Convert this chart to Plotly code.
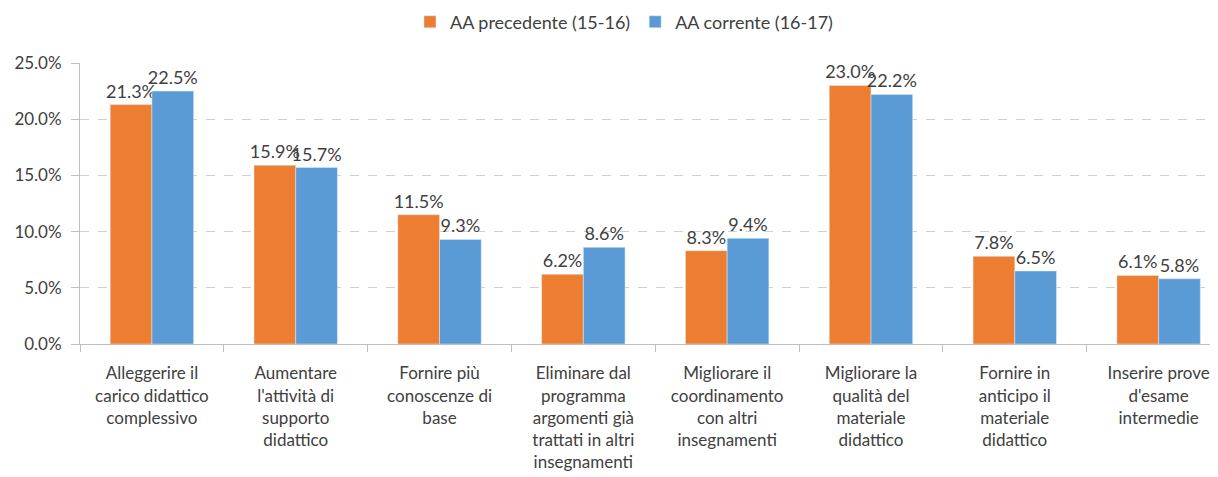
import plotly.graph_objects as go

categories = [
    "Alleggerire il<br>carico didattico<br>complessivo",
    "Aumentare<br>l'attività di<br>supporto<br>didattico",
    "Fornire più<br>conoscenze di<br>base",
    "Eliminare dal<br>programma<br>argomenti già<br>trattati in altri<br>insegnamenti",
    "Migliorare il<br>coordinamento<br>con altri<br>insegnamenti",
    "Migliorare la<br>qualità del<br>materiale<br>didattico",
    "Fornire in<br>anticipo il<br>materiale<br>didattico",
    "Inserire prove<br>d'esame<br>intermedie",
]
prev_name = "AA precedente (15-16)"
curr_name = "AA corrente (16-17)"
prev_values = [0.213, 0.159, 0.115, 0.062, 0.083, 0.230, 0.078, 0.061]
curr_values = [0.225, 0.157, 0.093, 0.086, 0.094, 0.222, 0.065, 0.058]
y_ticks = [0, 0.05, 0.10, 0.15, 0.20, 0.25]

FONT = "Lato"
TXT = "#404040"

fig = go.Figure()
for name, vals, col in [(prev_name, prev_values, "#ED7D31"), (curr_name, curr_values, "#5B9BD5")]:
    fig.add_trace(go.Bar(
        x=categories, y=vals, name=name,
        marker=dict(color=col),
        texttemplate="%{y:.1%}", textposition="outside",
        textfont=dict(family=FONT, size=18, color=TXT),
        constraintext="none",
        cliponaxis=False,
    ))

fig.update_layout(
    width=1210, height=469,
    margin=dict(l=72, r=0, t=55, b=133),
    paper_bgcolor="white", plot_bgcolor="white",
    barmode="group", bargap=0.42, bargroupgap=0,
    font=dict(family=FONT, size=18, color=TXT),
    legend=dict(
        orientation="h", x=0.478, xanchor="center",
        yref="container", y=0.970, yanchor="middle",
        font=dict(family=FONT, size=18, color=TXT),
        itemwidth=30,
    ),
)
fig.update_xaxes(
    range=[-0.5, 7.413],
    showline=True, linecolor="#BFBFBF", linewidth=1,
    ticks="outside", tickson="boundaries", ticklen=7, tickcolor="#BFBFBF",
    tickfont=dict(family=FONT, size=17, color=TXT),
    tickangle=0, ticklabelstandoff=14,
)
fig.update_yaxes(
    range=[0, 0.25], tickvals=y_ticks, tickformat=".1%",
    showline=True, linecolor="#BFBFBF", linewidth=1,
    ticks="outside", ticklen=8, tickcolor="#BFBFBF",
    showgrid=True, gridcolor="#D0D0D0", griddash="dash", gridwidth=1,
    zeroline=False, ticklabelstandoff=6,
    tickfont=dict(family=FONT, size=17, color=TXT),
)

fig.write_html("out.html")
